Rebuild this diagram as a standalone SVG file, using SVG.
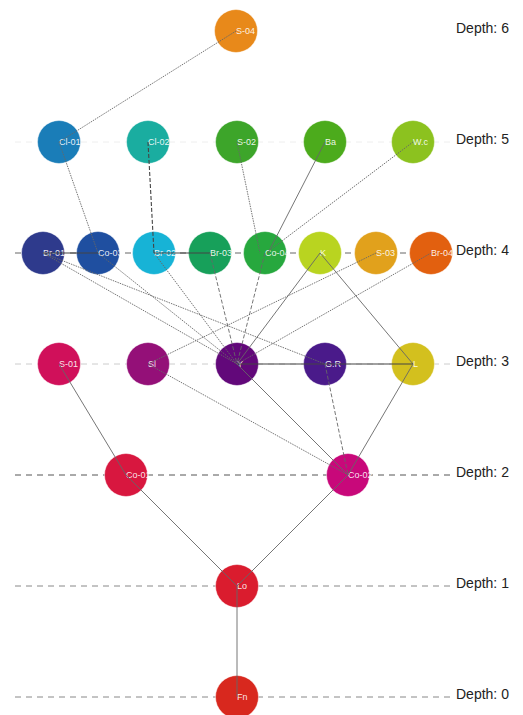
<svg xmlns="http://www.w3.org/2000/svg" width="523" height="715" viewBox="0 0 523 715">
<style>
.lvl{fill:none;stroke-dasharray:6,5;stroke-width:1}
.dl{font-family:"Liberation Sans",Arial,sans-serif;font-size:14px;fill:#222}
.n{stroke:#ffffff;stroke-opacity:0.45;stroke-width:1}
.t{font-family:"Liberation Sans",Arial,sans-serif;font-size:9px;fill:#ffffff;fill-opacity:0.9}
.e{stroke:#666;stroke-width:0.9;fill:none}
.dot{stroke-dasharray:1.5,1}
.dash{stroke-dasharray:4,2}
.dk{stroke:#444;stroke-width:1.1}
</style>
<rect width="523" height="715" fill="#ffffff"/>
<g id="levels">
<line class="lvl" x1="15" y1="142" x2="455" y2="142" stroke="#eeeeee"/>
<line class="lvl" x1="15" y1="253" x2="455" y2="253" stroke="#666"/>
<line class="lvl" x1="15" y1="364" x2="455" y2="364" stroke="#cccccc"/>
<line class="lvl" x1="15" y1="475" x2="455" y2="475" stroke="#555"/>
<line class="lvl" x1="15" y1="586" x2="455" y2="586" stroke="#888"/>
<line class="lvl" x1="15" y1="697" x2="455" y2="697" stroke="#888"/>
<text class="dl" x="456" y="33">Depth: 6</text>
<text class="dl" x="456" y="144">Depth: 5</text>
<text class="dl" x="456" y="255">Depth: 4</text>
<text class="dl" x="456" y="366">Depth: 3</text>
<text class="dl" x="456" y="477">Depth: 2</text>
<text class="dl" x="456" y="588">Depth: 1</text>
<text class="dl" x="456" y="699">Depth: 0</text>
</g>
<g id="n-S-04"><circle class="n" cx="236" cy="31" r="21.5" fill="#E8891A"/><text class="t" x="236" y="34">S-04</text></g>
<g id="n-Cl-01"><circle class="n" cx="59" cy="142" r="21.5" fill="#1A7DB8"/><text class="t" x="59" y="145">Cl-01</text></g>
<g id="n-Cl-02"><circle class="n" cx="148" cy="142" r="21.5" fill="#1AADA0"/><text class="t" x="148" y="145">Cl-02</text></g>
<g id="n-S-02"><circle class="n" cx="237" cy="142" r="21.5" fill="#3DA52A"/><text class="t" x="237" y="145">S-02</text></g>
<g id="n-Ba"><circle class="n" cx="325" cy="142" r="21.5" fill="#4CAB1C"/><text class="t" x="325" y="145">Ba</text></g>
<g id="n-W.c"><circle class="n" cx="413" cy="142" r="21.5" fill="#8CC21F"/><text class="t" x="413" y="145">W.c</text></g>
<g id="n-Br-01"><circle class="n" cx="43" cy="253" r="21.5" fill="#2E3A8C"/><text class="t" x="43" y="256">Br-01</text></g>
<g id="n-Co-03"><circle class="n" cx="98" cy="253" r="21.5" fill="#1F4FA0"/><text class="t" x="98" y="256">Co-03</text></g>
<g id="n-Br-02"><circle class="n" cx="154" cy="253" r="21.5" fill="#17B3D6"/><text class="t" x="154" y="256">Br-02</text></g>
<g id="n-Br-03"><circle class="n" cx="210" cy="253" r="21.5" fill="#17A05A"/><text class="t" x="210" y="256">Br-03</text></g>
<g id="n-Co-04"><circle class="n" cx="265" cy="253" r="21.5" fill="#27A83E"/><text class="t" x="265" y="256">Co-04</text></g>
<g id="n-K"><circle class="n" cx="320" cy="253" r="21.5" fill="#B9D420"/><text class="t" x="320" y="256">K</text></g>
<g id="n-S-03"><circle class="n" cx="376" cy="253" r="21.5" fill="#E1A11C"/><text class="t" x="376" y="256">S-03</text></g>
<g id="n-Br-04"><circle class="n" cx="431" cy="253" r="21.5" fill="#E2600F"/><text class="t" x="431" y="256">Br-04</text></g>
<g id="n-S-01"><circle class="n" cx="59" cy="364" r="21.5" fill="#D0105A"/><text class="t" x="59" y="367">S-01</text></g>
<g id="n-Sl"><circle class="n" cx="148" cy="364" r="21.5" fill="#941078"/><text class="t" x="148" y="367">Sl</text></g>
<g id="n-Y"><circle class="n" cx="237" cy="364" r="21.5" fill="#62087A"/><text class="t" x="237" y="367">Y</text></g>
<g id="n-G.R"><circle class="n" cx="325" cy="364" r="21.5" fill="#4A1A8A"/><text class="t" x="325" y="367">G.R</text></g>
<g id="n-L"><circle class="n" cx="413" cy="364" r="21.5" fill="#D3C01E"/><text class="t" x="413" y="367">L</text></g>
<g id="n-Co-01"><circle class="n" cx="126" cy="475" r="21.5" fill="#D8173F"/><text class="t" x="126" y="478">Co-01</text></g>
<g id="n-Co-02"><circle class="n" cx="348" cy="475" r="21.5" fill="#C8087A"/><text class="t" x="348" y="478">Co-02</text></g>
<g id="n-Lo"><circle class="n" cx="237" cy="586" r="21.5" fill="#DA1C2E"/><text class="t" x="237" y="589">Lo</text></g>
<g id="n-Fn"><circle class="n" cx="237" cy="697" r="21.5" fill="#D8281E"/><text class="t" x="237" y="700">Fn</text></g>
<g id="connectors">
<line class="e dot" x1="236" y1="31" x2="59" y2="142"/>
<line class="e dot" x1="59" y1="142" x2="98" y2="253"/>
<line class="e dash dk" x1="148" y1="142" x2="154" y2="253"/>
<line class="e dot" x1="237" y1="142" x2="260" y2="253"/>
<line class="e" x1="325" y1="142" x2="268" y2="253"/>
<line class="e dot" x1="413" y1="142" x2="270" y2="250"/>
<line class="e dk" x1="43" y1="253" x2="98" y2="253"/>
<line class="e dk" x1="154" y1="253" x2="210" y2="253"/>
<line class="e dot" x1="43" y1="253" x2="237" y2="364"/>
<line class="e dot" x1="43" y1="253" x2="325" y2="364"/>
<line class="e dot" x1="98" y1="253" x2="237" y2="364"/>
<line class="e dot" x1="154" y1="253" x2="237" y2="364"/>
<line class="e dash" x1="210" y1="253" x2="237" y2="364"/>
<line class="e dash" x1="265" y1="253" x2="237" y2="364"/>
<line class="e" x1="320" y1="253" x2="237" y2="364"/>
<line class="e" x1="320" y1="253" x2="413" y2="364"/>
<line class="e dot" x1="376" y1="253" x2="148" y2="364"/>
<line class="e dot" x1="431" y1="253" x2="237" y2="364"/>
<line class="e dk" x1="237" y1="364" x2="413" y2="364"/>
<line class="e" x1="59" y1="364" x2="126" y2="475"/>
<line class="e dot" x1="148" y1="364" x2="348" y2="475"/>
<line class="e" x1="237" y1="364" x2="348" y2="475"/>
<line class="e dash" x1="325" y1="364" x2="348" y2="475"/>
<line class="e" x1="413" y1="364" x2="348" y2="475"/>
<line class="e" x1="126" y1="475" x2="237" y2="586"/>
<line class="e" x1="348" y1="475" x2="237" y2="586"/>
<line class="e" x1="237" y1="586" x2="237" y2="697"/>
</g>
</svg>
